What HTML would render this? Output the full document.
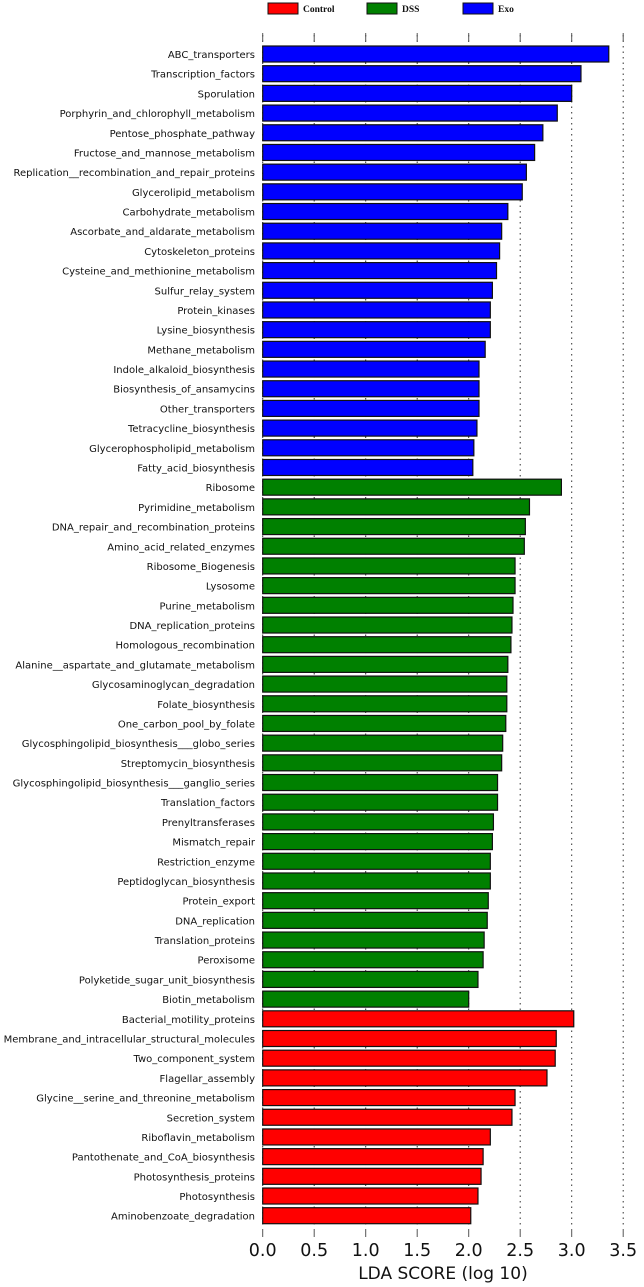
<!DOCTYPE html>
<html><head><meta charset="utf-8"><style>
body{margin:0;background:#fff;width:644px;height:1287px;overflow:hidden}
svg{display:block}
</style></head><body>
<svg id="chart" width="644" height="1287"></svg>
<script>
const categories=["ABC_transporters","Transcription_factors","Sporulation","Porphyrin_and_chlorophyll_metabolism","Pentose_phosphate_pathway","Fructose_and_mannose_metabolism","Replication__recombination_and_repair_proteins","Glycerolipid_metabolism","Carbohydrate_metabolism","Ascorbate_and_aldarate_metabolism","Cytoskeleton_proteins","Cysteine_and_methionine_metabolism","Sulfur_relay_system","Protein_kinases","Lysine_biosynthesis","Methane_metabolism","Indole_alkaloid_biosynthesis","Biosynthesis_of_ansamycins","Other_transporters","Tetracycline_biosynthesis","Glycerophospholipid_metabolism","Fatty_acid_biosynthesis",
"Ribosome","Pyrimidine_metabolism","DNA_repair_and_recombination_proteins","Amino_acid_related_enzymes","Ribosome_Biogenesis","Lysosome","Purine_metabolism","DNA_replication_proteins","Homologous_recombination","Alanine__aspartate_and_glutamate_metabolism","Glycosaminoglycan_degradation","Folate_biosynthesis","One_carbon_pool_by_folate","Glycosphingolipid_biosynthesis___globo_series","Streptomycin_biosynthesis","Glycosphingolipid_biosynthesis___ganglio_series","Translation_factors","Prenyltransferases","Mismatch_repair","Restriction_enzyme","Peptidoglycan_biosynthesis","Protein_export","DNA_replication","Translation_proteins","Peroxisome","Polyketide_sugar_unit_biosynthesis","Biotin_metabolism",
"Bacterial_motility_proteins","Membrane_and_intracellular_structural_molecules","Two_component_system","Flagellar_assembly","Glycine__serine_and_threonine_metabolism","Secretion_system","Riboflavin_metabolism","Pantothenate_and_CoA_biosynthesis","Photosynthesis_proteins","Photosynthesis","Aminobenzoate_degradation"];
const scores=[3.36,3.09,3.0,2.86,2.72,2.64,2.56,2.52,2.38,2.32,2.30,2.27,2.23,2.21,2.21,2.16,2.10,2.10,2.10,2.08,2.05,2.04,
2.90,2.59,2.55,2.54,2.45,2.45,2.43,2.42,2.41,2.38,2.37,2.37,2.36,2.33,2.32,2.28,2.28,2.24,2.23,2.21,2.21,2.19,2.18,2.15,2.14,2.09,2.00,
3.02,2.85,2.84,2.76,2.45,2.42,2.21,2.14,2.12,2.09,2.02];
const groups=[...Array(22).fill("Exo"),...Array(27).fill("DSS"),...Array(11).fill("Control")];
const ticks=[0,0.5,1.0,1.5,2.0,2.5,3.0,3.5];
const legendNames=["Control","DSS","Exo"];
const colors={Control:"#ff0000",DSS:"#008000",Exo:"#0000ff"};
const NS="http://www.w3.org/2000/svg";
const svg=document.getElementById('chart');
const x=v=>262.7+v*103.0;
const y=i=>46+i*19.69;
function mk(t,a){const e=document.createElementNS(NS,t);for(const k in a)e.setAttribute(k,a[k]);svg.appendChild(e);return e;}
ticks.forEach(t=>{
  let g=mk('line',{x1:x(t),x2:x(t),y1:35,y2:1228,stroke:'#333','stroke-width':1,'stroke-dasharray':'1.5,4'});
  
  
  let tt=mk('line',{x1:x(t),x2:x(t),y1:1229,y2:1237,stroke:'#555','stroke-width':1});
  
  
  let tl=mk('text',{x:x(t),y:1256,'text-anchor':'middle','font-family':'DejaVu Sans, sans-serif','font-size':17.5,fill:'#111'});
  tl.textContent=t.toFixed(1);
  
  
  let tp=mk('line',{x1:x(t),x2:x(t),y1:33,y2:41,stroke:'#555','stroke-width':1});
  
  
});
categories.forEach((c,i)=>{
  let r=mk('rect',{x:x(0),y:y(i),width:x(scores[i])-x(0),height:16,fill:colors[groups[i]],stroke:'#111','stroke-width':1.2});
  
  
  let t=mk('text',{x:255,y:y(i)+12,'text-anchor':'end','font-family':'DejaVu Sans, sans-serif','font-size':10,fill:'#111'});
  t.textContent=c;
  
  
});
let xt=mk('text',{x:x(1.75),y:1279,'text-anchor':'middle','font-family':'DejaVu Sans, sans-serif','font-size':17,fill:'#111'});
xt.textContent='LDA SCORE (log 10)';


const lx=[268,367,463];
legendNames.forEach((n,i)=>{
  let b=mk('rect',{x:lx[i],y:3,width:30,height:11,fill:colors[n],stroke:'#111','stroke-width':1});
  
  
  let t=mk('text',{x:lx[i]+35,y:12,'font-family':'Liberation Serif, serif','font-weight':'bold','font-size':9.5,fill:'#111'});
  t.textContent=n;
  
  
});
</script>
</body></html>
